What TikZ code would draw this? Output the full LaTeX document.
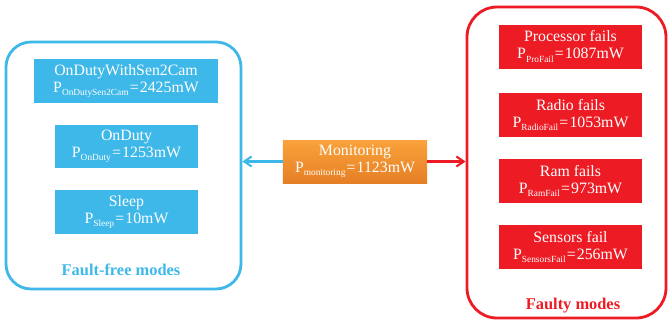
\documentclass[tikz,border=0pt]{standalone}
\usepackage{fontspec}
\setmainfont{Liberation Serif}
\usetikzlibrary{positioning, fit, arrows.meta}
\definecolor{skyblue}{HTML}{3EB8E9}
\definecolor{faultred}{HTML}{ED1C24}
\definecolor{monlight}{HTML}{F9A23B}
\definecolor{mondark}{HTML}{E67F25}
\tikzset{
  modebox/.style={fill=skyblue, text=white, align=center, inner sep=0pt, minimum height=1.3cm, font=\fontsize{13.5}{14.5}\selectfont},
  failbox/.style={fill=faultred, text=white, align=center, inner sep=0pt, minimum width=4.29cm, minimum height=1.32cm, font=\fontsize{13.5}{14.5}\selectfont},
  frame/.style={draw, line width=2.4pt, inner sep=0pt}
}
\newcommand{\pw}[2]{P\raisebox{-0.45ex}{\fontsize{8}{8}\selectfont #1}\kern1pt=\kern1pt#2}
\begin{document}
\begin{tikzpicture}[x=0.03cm, y=-0.03cm, >={Straight Barb[length=2.2mm, width=3mm]}]
\useasboundingbox (0,0) rectangle (669,322);
% fault-free side
\node[frame, draw=skyblue, rounded corners=0.75cm, fit={(6,42) (241,289)}] (ffree) {};
\node[modebox, minimum width=5.52cm] (sen2cam) at (126,81) {OnDutyWithSen2Cam\\\pw{OnDutySen2Cam}{2425mW}};
\node[modebox, minimum width=4.29cm] (onduty) at (126.5,146.5) {OnDuty\\\pw{OnDuty}{1253mW}};
\node[modebox, minimum width=4.29cm] (sleep) at (126.5,212) {Sleep\\\pw{Sleep}{10mW}};
\node[text=skyblue, font=\fontsize{14}{14}\selectfont\bfseries] (fflabel) at (121,270) {Fault-free modes};
% monitoring
\node[top color=monlight, bottom color=mondark, text=white, align=center, inner sep=0pt,
  minimum width=4.32cm, minimum height=1.29cm, font=\fontsize{13.5}{14.5}\selectfont] (mon) at (355,161.5)
  {Monitoring\\\pw{monitoring}{1123mW}};
% faulty side
\node[frame, draw=faultred, rounded corners=0.9cm, fit={(467,7) (666,318)}] (faulty) {};
\node[failbox] (profail) at (570.5,46.5) {Processor fails\\\pw{ProFail}{1087mW}};
\node[failbox] (radiofail) at (570.5,115) {Radio fails\\\pw{RadioFail}{1053mW}};
\node[failbox] (ramfail) at (570.5,181) {Ram fails\\\pw{RamFail}{973mW}};
\node[failbox] (sensfail) at (570.5,247) {Sensors fail\\\pw{SensorsFail}{256mW}};
\node[text=faultred, font=\fontsize{14}{14}\selectfont\bfseries] (flabel) at (573,306) {Faulty modes};
% arrows
\draw[->, skyblue, line width=1.8pt] (mon.west) -- (mon.west -| ffree.east);
\draw[->, faultred, line width=1.8pt] (mon.east) -- (mon.east -| faulty.west);
\end{tikzpicture}
\end{document}
